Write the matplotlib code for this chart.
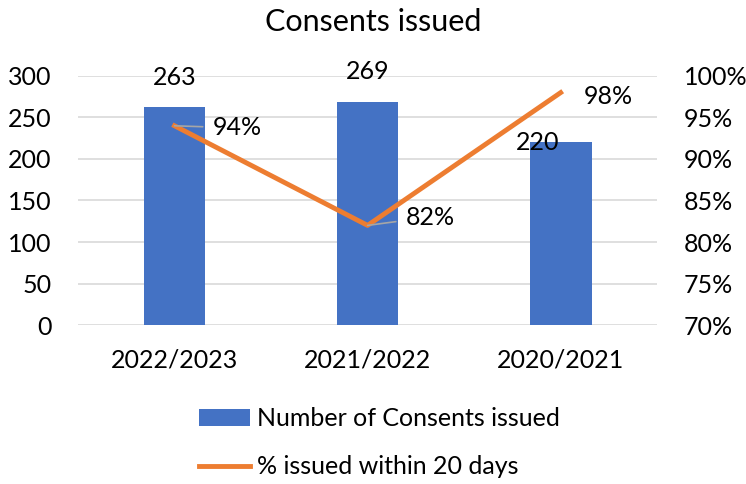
import numpy as np
import matplotlib.pyplot as plt
from matplotlib.lines import Line2D
from matplotlib.patches import Patch

plt.rcParams['font.family'] = ['Lato', 'DejaVu Sans']

years = ['2022/2023', '2021/2022', '2020/2021']
consents = [263, 269, 220]
pct_20_days = [94, 82, 98]

bar_color = '#4472c4'
line_color = '#ed7d31'
grid_color = '#d9d9d9'
fs = 18

fig = plt.figure(figsize=(7.46, 4.84), dpi=100)
ax = fig.add_axes([0.1045, 0.3285, 0.7765, 0.5145])
ax2 = ax.twinx()

x = np.arange(len(years))
ax.bar(x, consents, width=0.32, color=bar_color, zorder=2)
ax.set_xlim(-0.5, len(years) - 0.5)
ax.set_ylim(0, 300)
ax.set_yticks(range(0, 301, 50))
ax.yaxis.grid(True, color=grid_color, linewidth=1.2, zorder=0)
ax.set_axisbelow(True)
ax.set_xticks(x)
ax.set_xticklabels(years)

ax2.plot(x, pct_20_days, color=line_color, linewidth=3.5, zorder=3)
ax2.set_ylim(70, 100)
ax2.set_yticks(range(70, 101, 5))
ax2.set_yticklabels([f'{v}%' for v in range(70, 101, 5)])

for a in (ax, ax2):
    for s in a.spines.values():
        s.set_visible(False)
    a.tick_params(length=0, labelsize=fs, colors='black')
ax.tick_params(axis='x', pad=17)
ax.tick_params(axis='y', pad=19)
ax2.tick_params(axis='y', pad=19)

# value labels on the bars
bar_offsets = [(0, 21), (0, 21.5), (-16.5, 0)]
for xi, v, off in zip(x, consents, bar_offsets):
    ax.annotate(str(v), (xi, v), xytext=off, textcoords='offset points',
                ha='center', va='center', fontsize=fs)

# percentage labels, with leader lines where they sit away from the point
pct_offsets = [(45, -1.5), (45, 6), (34, -2.5)]
leaders = [True, True, False]
for xi, v, off, lead in zip(x, pct_20_days, pct_offsets, leaders):
    props = dict(arrowstyle='-', color='#a6a6a6', lw=1.2, shrinkA=5, shrinkB=0) if lead else None
    ax2.annotate(f'{v}%', (xi, v), xytext=off, textcoords='offset points',
                 ha='center', va='center', fontsize=fs, arrowprops=props)

fig.text(0.5, 0.955, 'Consents issued', ha='center', va='center', fontsize=22)

handles = [Patch(facecolor=bar_color), Line2D([0], [0], color=line_color, linewidth=3.5)]
labels = ['Number of Consents issued', '% issued within 20 days']
fig.legend(handles, labels, loc='center', bbox_to_anchor=(0.509, 0.085), frameon=False,
           fontsize=fs, handlelength=2.05, handletextpad=0.28, labelspacing=1.0)

fig.savefig('out.png', dpi=100)
